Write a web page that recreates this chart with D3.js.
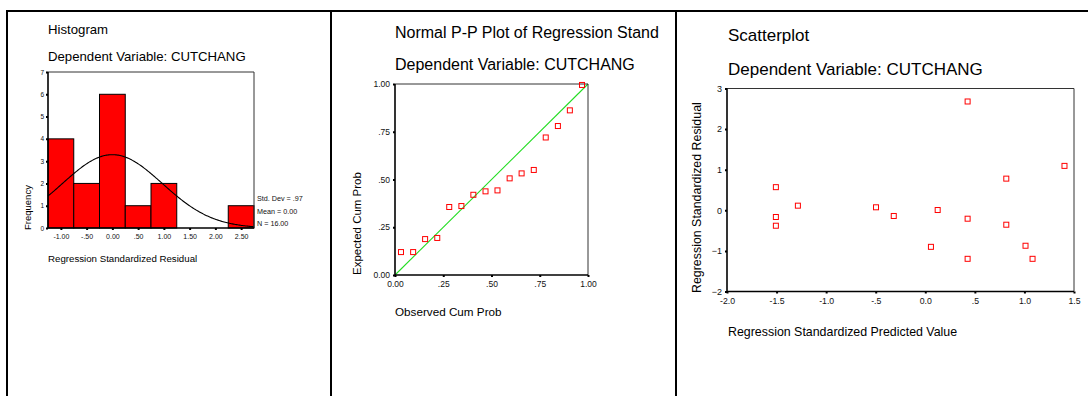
<!DOCTYPE html>
<html><head><meta charset="utf-8">
<script src="https://cdn.jsdelivr.net/npm/d3@7"></script>
<style>
html,body{margin:0;padding:0;background:#fff;}
svg{display:block;font-family:Arial,"Liberation Sans",sans-serif;}
</style></head>
<body>
<svg id="c" width="1088" height="396"></svg>
<script>
// ---------- DATA ----------
const histBinCenters = [-1.0, -0.5, 0.0, 0.5, 1.0, 1.5, 2.0, 2.5];
const histCounts     = [4, 2, 6, 1, 2, 0, 0, 1];
const histXTickValues = [-1.0, -0.5, 0.0, 0.5, 1.0, 1.5, 2.0, 2.5];
const histXTickLabels = ["-1.00", "-.50", "0.00", ".50", "1.00", "1.50", "2.00", "2.50"];
const histYTickValues = [0, 1, 2, 3, 4, 5, 6, 7];
const histStd = 0.97, histMean = 0.00, histN = 16;
const histStatLabels = ["Std. Dev = .97", "Mean = 0.00", "N = 16.00"];

const ppObserved = [0.031, 0.094, 0.156, 0.219, 0.281, 0.344, 0.406, 0.469, 0.531, 0.594, 0.656, 0.719, 0.781, 0.844, 0.906, 0.969];
const ppExpected = [0.12, 0.12, 0.188, 0.194, 0.356, 0.361, 0.42, 0.438, 0.443, 0.506, 0.532, 0.55, 0.72, 0.78, 0.862, 0.995];
const ppTickValues = [0, 0.25, 0.5, 0.75, 1.0];
const ppTickLabels = ["0.00", ".25", ".50", ".75", "1.00"];

const scPredicted = [-1.507, -1.507, -1.507, -1.285, -0.497, -0.318, 0.057, 0.125, 0.427, 0.427, 0.427, 0.817, 0.817, 1.011, 1.082, 1.404];
const scResidual  = [0.57, -0.165, -0.38, 0.114, 0.074, -0.14, -0.90, 0.007, -0.207, -1.195, 2.68, 0.78, -0.355, -0.873, -1.195, 1.094];
const scXTickValues = [-2.0, -1.5, -1.0, -0.5, 0.0, 0.5, 1.0, 1.5];
const scXTickLabels = ["-2.0", "-1.5", "-1.0", "-.5", "0.0", ".5", "1.0", "1.5"];
const scYTickValues = [-2, -1, 0, 1, 2, 3];

// ---------- DRAW ----------
const svg = d3.select("#c");

// panel borders
const border = svg.append("g").attr("stroke", "#000").attr("stroke-width", 2).attr("fill", "none");
border.append("line").attr("x1", 6).attr("x2", 1088).attr("y1", 11).attr("y2", 11);
[7, 331, 676].forEach(x => border.append("line").attr("x1", x).attr("x2", x).attr("y1", 10).attr("y2", 396));

function styleAxis(g, fs) {
  g.select(".domain").remove();
  g.selectAll(".tick line").attr("stroke", "#000").attr("stroke-width", 2);
  g.selectAll(".tick text").attr("font-size", fs).attr("fill", "#111").attr("font-family", "Arial, 'Liberation Sans', sans-serif");
}
function frame(x0, x1, y0, y1) {
  const f = svg.append("g").attr("fill", "none");
  f.append("line").attr("x1", x0).attr("x2", x1).attr("y1", y0).attr("y2", y0).attr("stroke", "#333").attr("stroke-width", 1);
  f.append("line").attr("x1", x1).attr("x2", x1).attr("y1", y0).attr("y2", y1).attr("stroke", "#333").attr("stroke-width", 1);
  f.append("line").attr("x1", x0).attr("x2", x0).attr("y1", y0).attr("y2", y1).attr("stroke", "#000").attr("stroke-width", 1.6);
  f.append("line").attr("x1", x0).attr("x2", x1).attr("y1", y1).attr("y2", y1).attr("stroke", "#000").attr("stroke-width", 1.6);
}
function txt(x, y, s, fs, opts = {}) {
  const t = svg.append("text").attr("x", x).attr("y", y).attr("font-size", fs).attr("fill", "#000").text(s);
  if (opts.anchor) t.attr("text-anchor", opts.anchor);
  if (opts.rotate) t.attr("transform", `rotate(-90,${x},${y})`);
  return t;
}

// ===== Histogram =====
{
  const L = 48, R = 254, T = 72, B = 228;
  const x = d3.scaleLinear().domain([-1.25, 2.75]).range([L, R]);
  const y = d3.scaleLinear().domain([0, 7]).range([B, T]);
  txt(48, 34, "Histogram", 13.2);
  txt(48, 61, "Dependent Variable: CUTCHANG", 13.2);
  svg.append("g").selectAll("rect").data(histCounts.map((c, i) => ({c, m: histBinCenters[i]})).filter(d => d.c > 0))
    .join("rect")
    .attr("x", d => x(d.m - 0.25)).attr("width", d => x(d.m + 0.25) - x(d.m - 0.25))
    .attr("y", d => y(d.c)).attr("height", d => y(0) - y(d.c))
    .attr("fill", "#ff0000").attr("stroke", "#000").attr("stroke-width", 1);
  // normal curve from the stated mean / sd / N
  const bw = 0.5;
  const pts = d3.range(-1.25, 2.7501, 0.02).map(v => [v, histN * bw / (histStd * Math.sqrt(2 * Math.PI)) * Math.exp(-0.5 * Math.pow((v - histMean) / histStd, 2))]);
  svg.append("path").attr("d", d3.line().x(d => x(d[0])).y(d => y(d[1]))(pts))
    .attr("fill", "none").attr("stroke", "#000").attr("stroke-width", 1.1);
  frame(L, R, T, B);
  const ya = svg.append("g").attr("transform", `translate(${L},0)`).call(d3.axisLeft(y).tickValues(histYTickValues).tickSize(2).tickPadding(2).tickFormat(d3.format("d")));
  styleAxis(ya, 6.5);
  const xa = svg.append("g").attr("transform", `translate(0,${B})`).call(d3.axisBottom(x).tickValues(histXTickValues).tickSize(2).tickPadding(4).tickFormat((d, i) => histXTickLabels[i]));
  styleAxis(xa, 7);
  histStatLabels.forEach((s, i) => txt(257, 201 + i * 12.7, s, 7.2).attr("fill", "#111"));
  txt(31, 230, "Frequency", 9.5, {anchor: "start", rotate: true});
  txt(48, 262, "Regression Standardized Residual", 9.7);
}

// ===== P-P plot =====
{
  const L = 395, R = 588, T = 84, B = 275;
  const x = d3.scaleLinear().domain([0, 1]).range([L, R]);
  const y = d3.scaleLinear().domain([0, 1]).range([B, T]);
  // title is cut off by the panel edge in the reference
  txt(395, 38, "Normal P-P Plot of Regression Stand", 16);
  txt(395, 70, "Dependent Variable: CUTCHANG", 16);
  svg.append("line").attr("x1", x(0)).attr("y1", y(0)).attr("x2", x(1)).attr("y2", y(1))
    .attr("stroke", "#22dd22").attr("stroke-width", 1.1);
  frame(L, R, T, B);
  svg.append("g").selectAll("rect").data(ppObserved.map((o, i) => [o, ppExpected[i]])).join("rect")
    .attr("x", d => x(d[0]) - 2.5).attr("y", d => y(d[1]) - 2.5).attr("width", 5).attr("height", 5)
    .attr("fill", "none").attr("stroke", "#ff0000").attr("stroke-width", 1);
  const ya = svg.append("g").attr("transform", `translate(${L},0)`).call(d3.axisLeft(y).tickValues(ppTickValues).tickSize(2).tickPadding(3).tickFormat((d, i) => ppTickLabels[i]));
  styleAxis(ya, 8.5);
  const xa = svg.append("g").attr("transform", `translate(0,${B})`).call(d3.axisBottom(x).tickValues(ppTickValues).tickSize(2).tickPadding(4).tickFormat((d, i) => ppTickLabels[i]));
  styleAxis(xa, 8.5);
  txt(361, 275, "Expected Cum Prob", 11.5, {anchor: "start", rotate: true});
  txt(395, 316, "Observed Cum Prob", 11.7);
}

// ===== Scatterplot =====
{
  const L = 727, R = 1074, T = 88.5, B = 291.5;
  const x = d3.scaleLinear().domain([-2, 1.5]).range([L, R]);
  const y = d3.scaleLinear().domain([-2, 3]).range([B, T]);
  txt(728, 41, "Scatterplot", 17);
  txt(728, 75, "Dependent Variable: CUTCHANG", 17);
  frame(L, R, T, B);
  svg.append("g").selectAll("rect").data(scPredicted.map((p, i) => [p, scResidual[i]])).join("rect")
    .attr("x", d => x(d[0]) - 2.5).attr("y", d => y(d[1]) - 2.5).attr("width", 5).attr("height", 5)
    .attr("fill", "none").attr("stroke", "#ff0000").attr("stroke-width", 1);
  const ya = svg.append("g").attr("transform", `translate(${L},0)`).call(d3.axisLeft(y).tickValues(scYTickValues).tickSize(2).tickPadding(3).tickFormat(d3.format("d")));
  styleAxis(ya, 9);
  const xa = svg.append("g").attr("transform", `translate(0,${B})`).call(d3.axisBottom(x).tickValues(scXTickValues).tickSize(2).tickPadding(4).tickFormat((d, i) => scXTickLabels[i]));
  styleAxis(xa, 8.7);
  txt(701, 293, "Regression Standardized Residual", 12.4, {anchor: "start", rotate: true});
  txt(728, 336, "Regression Standardized Predicted Value", 12.4);
}
</script>
</body></html>
